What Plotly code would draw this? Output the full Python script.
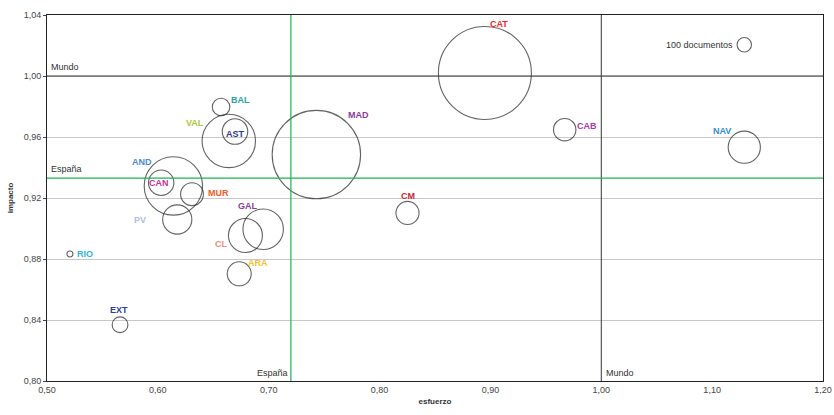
import plotly.graph_objects as go

regiones = ["CAT", "MAD", "AND", "VAL", "GAL", "CL", "NAV", "PV", "AST", "CAN",
            "ARA", "CAB", "CM", "MUR", "BAL", "EXT", "RIO"]
esfuerzo = [0.895, 0.743, 0.614, 0.664, 0.695, 0.679, 1.129, 0.6175, 0.6696, 0.603,
            0.6734, 0.967, 0.8252, 0.6308, 0.657, 0.5659, 0.5207]
impacto = [1.002, 0.9485, 0.9279, 0.9574, 0.8995, 0.8954, 0.9533, 0.9059, 0.9636, 0.930,
           0.8703, 0.9648, 0.9102, 0.9225, 0.9797, 0.8369, 0.8833]
documentos = [4170, 3770, 1645, 1375, 790, 557, 500, 411, 314, 311,
              278, 242, 257, 251, 148, 120, 17]
colores = ["#f5282d", "#8a3a9c", "#4a8ad2", "#a9c93a", "#8a3a9c", "#f28a7a", "#2e8fd6",
           "#aebde2", "#2f3a90", "#d2309e", "#f7c22e", "#a83aa8", "#c22a3a", "#f25a2a",
           "#27a3a0", "#2f3a9e", "#2ab7e6"]
# label offsets (pixels) relative to bubble centre
dx = [14, 42, -31, -34, -15, -24, -22, -37, 0, -2, 19, 22, 0, 26, 19, -1, 15]
dy = [49, 40, 24, 18, 23, -8, 16, 0, -2, 0, 11, 4, 17, 1, 7, 15, 0]

ref_x, ref_y, ref_docs = [1.129], [1.0205], [100]
espana_x, espana_y = 0.72, 0.933
mundo_x, mundo_y = 1.00, 1.00

sizeref = 2 * 100 / (14.4 ** 2)
GREEN = "#1db34f"
FONT = "Liberation Sans, Arial, sans-serif"

fig = go.Figure()
fig.add_trace(go.Scatter(
    x=esfuerzo, y=impacto, mode="markers",
    marker=dict(size=documentos, sizemode="area", sizeref=sizeref,
                color="rgba(0,0,0,0)", line=dict(color="#222222", width=1.1)),
    hoverinfo="text", text=regiones, showlegend=False))
fig.add_trace(go.Scatter(
    x=ref_x, y=ref_y, mode="markers",
    marker=dict(size=ref_docs, sizemode="area", sizeref=sizeref,
                color="rgba(0,0,0,0)", line=dict(color="#222222", width=1.1)),
    showlegend=False))

# reference lines
fig.add_shape(type="line", x0=0.5, x1=1.2, y0=mundo_y, y1=mundo_y, line=dict(color="#333333", width=1), layer="above")
fig.add_shape(type="line", x0=mundo_x, x1=mundo_x, y0=0.8, y1=1.04, line=dict(color="#333333", width=1), layer="above")
fig.add_shape(type="line", x0=0.5, x1=1.2, y0=espana_y, y1=espana_y, line=dict(color=GREEN, width=1.2), layer="above")
fig.add_shape(type="line", x0=espana_x, x1=espana_x, y0=0.8, y1=1.04, line=dict(color=GREEN, width=1.2), layer="above")

ann = []
for r, x, y, c, sx, sy in zip(regiones, esfuerzo, impacto, colores, dx, dy):
    ann.append(dict(x=x, y=y, text=f"<b>{r}</b>", showarrow=False, xshift=sx, yshift=sy,
                    font=dict(family=FONT, size=9, color=c)))
ann.append(dict(x=ref_x[0], y=ref_y[0], text="100 documentos", showarrow=False, xshift=-9,
                xanchor="right", font=dict(family=FONT, size=9, color="#333333")))
ann.append(dict(x=0.5, y=mundo_y, text="Mundo", showarrow=False, xanchor="left", yanchor="bottom",
                xshift=2, yshift=2, font=dict(family=FONT, size=9, color="#333333")))
ann.append(dict(x=0.5, y=espana_y, text="España", showarrow=False, xanchor="left", yanchor="bottom",
                xshift=2, yshift=2, font=dict(family=FONT, size=9, color="#333333")))
ann.append(dict(x=espana_x, y=0.8, text="España", showarrow=False, xanchor="right", yanchor="bottom",
                xshift=-1, yshift=1, font=dict(family=FONT, size=9, color="#333333")))
ann.append(dict(x=mundo_x, y=0.8, text="Mundo", showarrow=False, xanchor="left", yanchor="bottom",
                xshift=3, yshift=1, font=dict(family=FONT, size=9, color="#333333")))

fig.update_layout(
    width=834, height=415,
    margin=dict(l=47, r=11, t=15, b=34, autoexpand=False),
    paper_bgcolor="white", plot_bgcolor="white",
    separators=",.",
    font=dict(family=FONT, size=9, color="#444444"),
    annotations=ann,
    xaxis=dict(range=[0.5, 1.2], dtick=0.1, tickformat=".2f", showgrid=False, zeroline=False,
               showline=True, linecolor="#222222", linewidth=1, mirror=True, automargin=False,
               ticks="", tickfont=dict(size=9, color="#444444"),
               title=dict(text="<b>esfuerzo</b>", font=dict(size=8, color="#333333"), standoff=4)),
    yaxis=dict(range=[0.8, 1.04], dtick=0.04, tickformat=".2f", showgrid=True, gridcolor="#c8c8c8",
               gridwidth=1, zeroline=False, showline=True, linecolor="#222222", linewidth=1,
               mirror=True, ticks="outside", ticklen=3, tickcolor="#444444", automargin=False,
               tickfont=dict(size=9, color="#444444"),
               title=dict(text="<b>impacto</b>", font=dict(size=8, color="#333333"), standoff=8)),
)
fig.write_html("out.html", config={"displayModeBar": False},
               post_script="document.body.style.margin='0';document.body.style.overflow='hidden';")
